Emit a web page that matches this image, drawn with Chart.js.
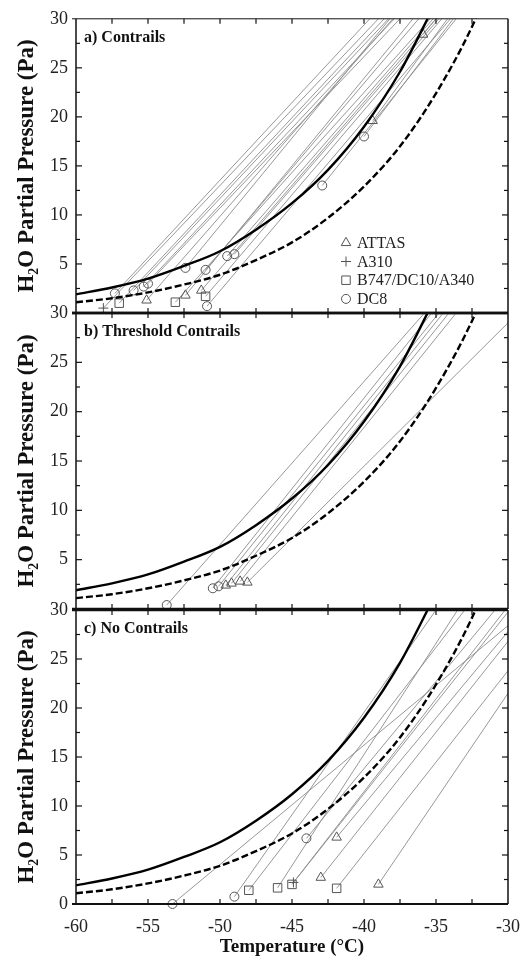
<!DOCTYPE html>
<html>
<head>
<meta charset="utf-8">
<script src="https://cdn.jsdelivr.net/npm/chart.js@4.4.0/dist/chart.umd.min.js"></script>
<style>
  body { margin: 0; background: #fff; }
  #wrap { position: relative; width: 523px; height: 960px; }
  #wrap canvas { position: absolute; left: 0; top: 0; }
</style>
</head>
<body>
<div id="wrap">
  <canvas id="panelA" width="523" height="960"></canvas>
  <canvas id="panelB" width="523" height="960"></canvas>
  <canvas id="panelC" width="523" height="960"></canvas>
</div>
<script>
// saturation pressure over liquid water (solid) and over ice (dashed), Pa
const waterTemps = [-60, -57.5, -55, -52.5, -50, -47.5, -45, -42.5, -40, -37.5, -35];
const waterSat = [1.9, 2.6, 3.5, 4.8, 6.3, 8.5, 11.2, 14.6, 19.0, 24.6, 31.7];
const iceTemps = [-60, -57.5, -55, -52.5, -50, -47.5, -45, -42.5, -40, -37.5, -35, -32.5, -30];
const iceSat = [1.1, 1.5, 2.1, 2.9, 3.9, 5.4, 7.2, 9.7, 12.9, 17.0, 22.4, 29.2, 38.0];

const aircraft = ['ATTAS', 'A310', 'B747', 'DC8'];
const aircraftNames = ['ATTAS', 'A310', 'B747/DC10/A340', 'DC8'];

// mixing lines: ambient point (T0, P0) -> end point (T1, P1)
// a) contrails
const aType = ['A310', 'B747', 'DC8', 'DC8', 'DC8', 'DC8', 'ATTAS', 'B747', 'ATTAS', 'DC8',
               'DC8', 'ATTAS', 'B747', 'DC8', 'DC8', 'DC8', 'DC8', 'DC8', 'ATTAS', 'ATTAS'];
const aT0 = [-58.1, -57.0, -57.3, -56.0, -55.3, -55.0, -55.1, -53.1, -52.4, -52.4,
             -51.0, -51.3, -51.0, -50.9, -49.5, -49.0, -42.9, -40.0, -39.4, -35.9];
const aP0 = [0.5, 1.0, 2.0, 2.3, 2.7, 3.0, 1.3, 1.1, 1.8, 4.6,
             4.4, 2.3, 1.7, 0.7, 5.8, 6.0, 13.0, 18.0, 19.6, 28.4];
const aT1 = [-39.0, -38.6, -39.6, -38.3, -37.9, -37.5, -38.0, -35.4, -36.6, -38.2,
             -36.2, -35.0, -34.6, -34.0, -35.2, -34.8, -33.6, -33.8, -34.2, -35.0];
const aP1 = [30, 30, 30, 30, 30, 30, 30, 30, 30, 30, 30, 30, 30, 30, 30, 30, 30, 30, 30, 30];

// b) threshold contrails
const bType = ['DC8', 'DC8', 'DC8', 'ATTAS', 'ATTAS', 'ATTAS', 'ATTAS'];
const bT0 = [-53.7, -50.5, -50.1, -49.6, -49.2, -48.6, -48.1];
const bP0 = [0.4, 2.1, 2.3, 2.4, 2.6, 2.8, 2.7];
const bT1 = [-35.8, -35.3, -34.8, -34.5, -34.1, -33.6, -30.0];
const bP1 = [30, 30, 30, 30, 30, 30, 29.0];

// c) no contrails
const cType = ['DC8', 'DC8', 'B747', 'B747', 'B747', 'A310', 'DC8', 'ATTAS', 'ATTAS', 'B747', 'ATTAS'];
const cT0 = [-53.3, -49.0, -48.0, -46.0, -45.0, -44.9, -44.0, -43.0, -41.9, -41.9, -39.0];
const cP0 = [0.0, 0.75, 1.4, 1.65, 2.0, 2.2, 6.7, 2.7, 6.8, 1.6, 2.0];
const cT1 = [-30.0, -35.0, -33.0, -33.5, -30.0, -30.2, -30.9, -30.0, -30.0, -30.0, -30.0];
const cP1 = [28.4, 30, 30, 30, 29.8, 30, 30, 26.8, 27.8, 23.8, 21.5];

const markerStyle = {
  ATTAS: { pointStyle: 'triangle', radius: 5.5 },
  A310: { pointStyle: 'cross', radius: 5 },
  B747: { pointStyle: 'rect', radius: 6 },
  DC8: { pointStyle: 'circle', radius: 4.5 }
};

const serif = 'Liberation Serif';
Chart.defaults.font.family = serif;
Chart.defaults.color = '#222';

// frame, inward ticks, panel caption and (optionally) the symbol key
const panelFrame = {
  id: 'panelFrame',
  afterDraw(chart, args, opts) {
    const { ctx, chartArea: { left, right, top, bottom } } = chart;
    const x = chart.scales.x, y = chart.scales.y;
    const seg = (x1, y1, x2, y2) => { ctx.beginPath(); ctx.moveTo(x1, y1); ctx.lineTo(x2, y2); ctx.stroke(); };
    ctx.save();
    ctx.strokeStyle = '#111';
    ctx.lineWidth = 1.5;
    seg(left, top, left, bottom);
    seg(right, top, right, bottom);
    ctx.lineWidth = opts.topWidth;
    seg(left - 4, top, right, top);
    ctx.lineWidth = opts.bottomWidth;
    seg(left - 4, bottom, right, bottom);

    ctx.lineWidth = 1.2;
    for (let v = -57.5; v < -30; v += 2.5) {
      const px = x.getPixelForValue(v);
      seg(px, top, px, top + 5);
      seg(px, bottom, px, bottom - 5);
    }
    for (let v = 2.5; v < 30; v += 2.5) {
      const py = y.getPixelForValue(v);
      const len = v % 5 === 0 ? 6 : 4;
      seg(left, py, left + len, py);
      seg(right, py, right - len, py);
    }

    ctx.fillStyle = '#111';
    ctx.textBaseline = 'middle';
    ctx.textAlign = 'left';
    ctx.font = 'bold 16px "' + serif + '"';
    ctx.fillText(opts.label, left + 8, top + 19);

    if (opts.legend) {
      ctx.font = '16px "' + serif + '"';
      ctx.strokeStyle = '#555';
      ctx.fillStyle = 'rgba(0,0,0,0)';
      aircraft.forEach((key, i) => {
        const cy = top + 224 + i * 18.7;
        const cx = left + 270;
        ctx.lineWidth = 1;
        Chart.helpers.drawPoint(ctx, { pointStyle: markerStyle[key].pointStyle, radius: markerStyle[key].radius, rotation: 0, borderWidth: 1 }, cx, cy);
        ctx.fillStyle = '#222';
        ctx.fillText(aircraftNames[i], cx + 11, cy + 1);
        ctx.fillStyle = 'rgba(0,0,0,0)';
      });
    }
    ctx.restore();
  }
};

function buildDatasets(types, t0, p0, t1, p1) {
  const sets = [
    {
      data: waterTemps.map((t, i) => ({ x: t, y: waterSat[i] })),
      showLine: true, borderColor: '#000', borderWidth: 2.4, pointRadius: 0,
      cubicInterpolationMode: 'monotone'
    },
    {
      data: iceTemps.map((t, i) => ({ x: t, y: iceSat[i] })),
      showLine: true, borderColor: '#000', borderWidth: 2.4, borderDash: [7, 3], pointRadius: 0,
      cubicInterpolationMode: 'monotone'
    }
  ];
  aircraft.forEach(key => {
    const pts = [];
    types.forEach((ty, i) => { if (ty === key) pts.push({ x: t0[i], y: p0[i] }); });
    if (!pts.length) return;
    sets.push({
      data: pts, showLine: false, clip: false,
      pointStyle: markerStyle[key].pointStyle, pointRadius: markerStyle[key].radius,
      pointBorderColor: '#555', pointBorderWidth: 1, pointBackgroundColor: 'rgba(0,0,0,0)'
    });
  });
  types.forEach((ty, i) => {
    sets.push({
      data: [{ x: t0[i], y: p0[i] }, { x: t1[i], y: p1[i] }],
      showLine: true, borderColor: '#8c8c8c', borderWidth: 0.9, pointRadius: 0
    });
  });
  return sets;
}

function makePanel(id, types, t0, p0, t1, p1, cfg) {
  const tickFont = { family: serif, size: 18 };
  new Chart(document.getElementById(id), {
    type: 'scatter',
    data: { datasets: buildDatasets(types, t0, p0, t1, p1) },
    options: {
      responsive: false,
      animation: false,
      events: [],
      layout: { padding: cfg.padding },
      plugins: {
        legend: { display: false },
        tooltip: { enabled: false },
        panelFrame: { label: cfg.label, legend: cfg.legend, topWidth: cfg.topWidth, bottomWidth: cfg.bottomWidth }
      },
      scales: {
        x: cfg.showX ? {
          type: 'linear', min: -60, max: -30,
          // fixed height; end labels may hang past the plot edges
          afterFit: s => { s.height = 56; s.paddingLeft = 0; s.paddingRight = 0; },
          grid: { display: false, drawTicks: false },
          border: { display: false },
          ticks: { stepSize: 5, padding: 12, autoSkip: false, maxRotation: 0, color: '#222', font: tickFont },
          title: {
            display: true, text: 'Temperature (°C)', color: '#111',
            font: { family: serif, size: 19, weight: 'bold' }, padding: { top: 0, bottom: 2 }
          }
        } : { type: 'linear', min: -60, max: -30, display: false },
        y: {
          min: 0, max: 30,
          afterFit: s => { s.width = 76; },
          grid: { display: false, drawTicks: false },
          border: { display: false },
          ticks: {
            stepSize: 5, padding: 8, color: '#222', font: tickFont,
            callback: v => (v === 0 && !cfg.showZero) ? '' : v
          },
          title: {
            display: true, text: 'H₂O Partial Pressure (Pa)', color: '#111',
            font: { family: serif, size: 23, weight: 'bold' }, padding: { top: 13, bottom: 0 }
          }
        }
      }
    },
    plugins: [panelFrame]
  });
}

makePanel('panelA', aType, aT0, aP0, aT1, aP1, {
  label: 'a) Contrails', legend: true, showX: false, showZero: false,
  topWidth: 1, bottomWidth: 2.5,
  padding: { top: 17, bottom: 647, left: 0, right: 15 }
});
makePanel('panelB', bType, bT0, bP0, bT1, bP1, {
  label: 'b) Threshold Contrails', legend: false, showX: false, showZero: false,
  topWidth: 2.5, bottomWidth: 2.5,
  padding: { top: 313, bottom: 351, left: 0, right: 15 }
});
makePanel('panelC', cType, cT0, cP0, cT1, cP1, {
  label: 'c) No Contrails', legend: false, showX: true, showZero: true,
  topWidth: 2.5, bottomWidth: 2,
  padding: { top: 610, bottom: 0, left: 0, right: 15 }
});
</script>
</body>
</html>
